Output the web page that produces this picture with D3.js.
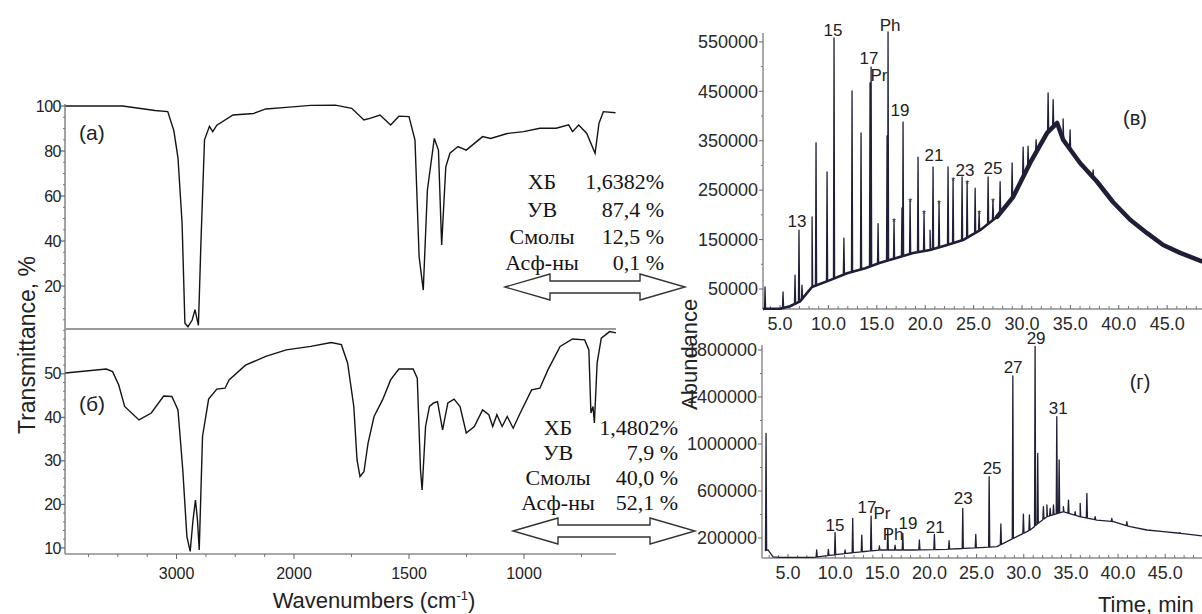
<!DOCTYPE html>
<html><head><meta charset="utf-8">
<script src="https://cdn.jsdelivr.net/npm/d3@7"></script>
<style>body{margin:0;background:#fff}svg{display:block}</style>
</head><body>
<svg id="c" width="1202" height="614"></svg>
<script>
// ---------------- DATA ----------------
// IR spectrum (a): wavenumber (cm-1) and transmittance (%)
const irA_wn = [3945,3459,3183,3075,3023,2988,2953,2929,2903,2867,2843,2814,2792,2762,2720,2692,2657,2519,2343,2240,2066,1927,1820,1749,1696,1670,1626,1580,1544,1500,1474,1456,1438,1420,1390,1372,1358,1340,1322,1287,1251,1180,1145,1073,1002,931,860,806,789,762,727,691,674,655,602];
const irA_T  = [100,100,98,97.5,89,77,48,3.5,1.9,4.9,9.5,2.5,40,85,91,88.6,91.5,96,96.7,98.7,99.4,100.3,100.4,99,93.8,94.5,96,91.6,95.5,95.3,84.9,33,18.2,62.7,85.6,80.4,38.2,73,79,82,80.4,86.4,85.6,87.8,88.6,90.1,90.1,91.6,88.6,91.6,87.8,79,92.3,97.5,97];
// IR spectrum (б)
const irB_wn = [3946,3598,3545,3493,3442,3320,3215,3110,3040,2988,2947,2912,2884,2860,2839,2822,2807,2779,2727,2657,2587,2553,2413,2240,2066,1927,1838,1794,1767,1740,1726,1713,1696,1678,1652,1615,1580,1544,1482,1464,1450,1443,1428,1411,1393,1376,1354,1331,1304,1278,1251,1216,1180,1153,1136,1118,1095,1073,1047,1020,967,931,896,843,789,736,718,709,700,694,682,664,628,600];
const irB_T  = [50.2,51.1,50.5,47.5,42.5,39.4,41,44.9,44.8,41.7,27.9,12.6,9.2,16.4,21,16.4,9.5,35.6,44.2,46.5,46.7,48.6,52,54,55.5,56.3,57.2,56.7,52.5,42.5,30.2,26.4,27.5,34.1,40.2,44,48.6,51.1,51.1,49,27.9,23.3,37.9,42.5,43.3,43.6,37.1,43.3,44.2,42.5,36.4,37.9,41.7,40.6,37.9,40.6,37.9,40.2,37.5,40.6,46.3,46.7,50.9,56.3,58,57.8,55.5,41,42.5,38.7,52.5,58.2,59.7,59.4];

const irX_ticks = [3000,2000,1500,1000];
const irA_yticks = [20,40,60,80,100];
const irB_yticks = [10,20,30,40,50];

// Group composition tables
const tableLabels = ["ХБ","УВ","Смолы","Асф-ны"];
const tableA_values = ["1,6382%","87,4 %","12,5 %","0,1 %"];
const tableB_values = ["1,4802%","7,9 %","40,0 %","52,1 %"];

// Chromatogram (в): background hump (time, abundance)
const chrV_baseT = [3.24,3.4,5.0,6.03,7.07,8.3,10.17,11.93,13.8,15.34,17.1,18.75,20.5,22.26,23.9,25.67,27.43,29.08,30.84,32.6,33.63,34.25,36.0,37.76,39.4,41.18,42.93,44.59,46.34,48.6];
const chrV_baseV = [9000,10000,10000,15000,25000,54000,68000,82000,92000,103000,113000,123000,129000,139000,149000,169000,196000,236000,305000,366000,386000,352000,305000,267000,226000,190000,163000,139000,123000,106000];
// Chromatogram (в): peaks (time, apex abundance)
const chrV_peakT = [3.45,5.31,6.55,6.96,7.27,8.31,8.72,9.86,10.58,11.6,12.44,13.37,14.3,14.41,15.13,16.06,16.16,16.78,17.6,17.71,18.44,19.26,19.88,20.5,20.81,21.43,22.36,22.88,23.81,24.33,25.16,25.57,26.5,27.0,27.74,28.98,30.12,30.63,31.46,32.7,33.22,34.25,34.97,37.35,39.1];
const chrV_peakV = [54000,44000,78000,169000,58000,196000,346000,287000,558000,153000,451000,366000,467000,499000,182000,360000,570000,190000,214000,388000,230000,317000,206000,169000,297000,226000,297000,273000,277000,267000,254000,206000,277000,230000,267000,305000,337000,339000,352000,447000,433000,394000,372000,291000,230000];
const chrV_labels = ["13","15","17","Pr","Ph","19","21","23","25"];
const chrV_labelT = [6.75,10.48,14.2,15.23,16.37,17.4,20.91,24.12,27.01];
const chrV_labelV = [187600,574100,517400,483000,584200,412200,321100,290800,294800];
const chrV_starT = [16.78,18.44,19.88,21.43,22.88,24.33,25.57,27.0];
const chrV_starV = [190000,230000,206000,226000,273000,267000,206000,230000];
const chrV_yticks = [50000,150000,250000,350000,450000,550000];

// Chromatogram (г)
const chrG_baseT = [2.6,2.88,3.41,4.15,7.69,11.22,14.76,18.3,21.83,25.37,27.14,28.9,30.68,31.74,32.45,34.2,35.98,37.75,39.52,41.29,43.06,44.82,46.59,48.9];
const chrG_baseV = [90000,100000,40000,35000,35000,70000,98000,98000,104000,118000,126000,197000,268000,339000,381000,424000,381000,353000,339000,296000,268000,254000,240000,218000];
const chrG_peakT = [2.67,8.04,9.28,9.99,11.05,11.86,12.82,13.81,14.69,15.58,16.35,17.17,18.93,20.52,22.08,23.53,24.91,26.33,27.57,28.84,29.96,30.6,31.2,31.48,32.08,32.45,32.8,33.15,33.5,33.75,34.2,34.74,35.45,35.98,36.69,37.57,39.34,40.93,46.59];
const chrG_peakV = [1091000,98000,104000,248000,98000,367000,225000,387000,132000,282000,140000,240000,183000,231000,177000,452000,231000,722000,319000,1579000,404000,396000,1830000,921000,467000,481000,452000,481000,1232000,864000,467000,523000,424000,495000,580000,381000,367000,339000,245000];
const chrG_labels = ["15","17","Pr","Ph","19","21","23","25","27","29","31"];
const chrG_labelT = [9.99,13.38,14.97,16.14,17.73,20.6,23.57,26.64,28.87,31.31,33.65];
const chrG_labelV = [310700,463900,412800,234100,327700,293600,540500,795800,1655400,1902200,1306500];
const chrG_yticks = [200000,600000,1000000,1400000,1800000];

const timeTicks = [5,10,15,20,25,30,35,40,45];

// ---------------- DRAW ----------------
const svg = d3.select("#c");
const SANS = "'Liberation Sans', Arial, sans-serif";
const SERIF = "'Liberation Serif', 'Times New Roman', serif";
const AX = "#8c8c8c";
const INK = "#141414";
const CHR = "#1f1f38";

// IR scales: the wavenumber axis changes scale at 2000 cm-1
const xIR = d3.scaleLinear().domain([3950,2000,600]).range([65,294,616]);
const yA = d3.scaleLinear().domain([0.9,100.9]).range([329,104]);
const yB = d3.scaleLinear().domain([8.6,60.3]).range([554,329]);

const gIR = svg.append("g");
gIR.append("line").attr("x1",65).attr("x2",65).attr("y1",104).attr("y2",554).attr("stroke",AX).attr("stroke-width",1.6);
gIR.append("line").attr("x1",65).attr("x2",616).attr("y1",554).attr("y2",554).attr("stroke",AX).attr("stroke-width",1.6);

function yTicks(scale, major, minorStep, lo, hi) {
  const minor = d3.range(lo, hi + 0.001, minorStep).filter(v => !major.includes(v));
  gIR.selectAll(null).data(minor).join("line")
    .attr("x1",63).attr("x2",65).attr("y1",d=>scale(d)).attr("y2",d=>scale(d))
    .attr("stroke","#777").attr("stroke-width",1);
  gIR.selectAll(null).data(major).join("line")
    .attr("x1",61).attr("x2",65).attr("y1",d=>scale(d)).attr("y2",d=>scale(d))
    .attr("stroke","#666").attr("stroke-width",1.2);
  gIR.selectAll(null).data(major).join("text")
    .attr("x",61).attr("y",d=>scale(d)).attr("dy","0.35em")
    .attr("text-anchor","end").attr("font-family",SANS).attr("font-size",16)
    .attr("fill","#222").attr("letter-spacing","-0.5").text(d=>d);
}
yTicks(yA, irA_yticks, 5, 5, 100);
yTicks(yB, irB_yticks, 2, 10, 60);

const xMinor = d3.range(750, 3800, 250).filter(v => !irX_ticks.includes(v));
gIR.selectAll(null).data(xMinor).join("line")
  .attr("x1",d=>xIR(d)).attr("x2",d=>xIR(d)).attr("y1",554).attr("y2",557)
  .attr("stroke","#777");
gIR.selectAll(null).data(irX_ticks).join("line")
  .attr("x1",d=>xIR(d)).attr("x2",d=>xIR(d)).attr("y1",554).attr("y2",559)
  .attr("stroke","#666");
gIR.selectAll(null).data(irX_ticks).join("text")
  .attr("x",d=>xIR(d)).attr("y",573).attr("dy","0.35em").attr("text-anchor","middle")
  .attr("font-family",SANS).attr("font-size",16).attr("fill","#222").text(d=>d);

gIR.append("line").attr("x1",65).attr("x2",616).attr("y1",329).attr("y2",329)
  .attr("stroke","#9a9a9a").attr("stroke-width",2.2);

const lineA = d3.line().x((d,i)=>xIR(irA_wn[i])).y((d,i)=>yA(irA_T[i]));
const lineB = d3.line().x((d,i)=>xIR(irB_wn[i])).y((d,i)=>yB(irB_T[i]));
gIR.append("path").attr("d", lineA(irA_wn)).attr("fill","none").attr("stroke",INK).attr("stroke-width",1.4);
gIR.append("path").attr("d", lineB(irB_wn)).attr("fill","none").attr("stroke",INK).attr("stroke-width",1.4);

gIR.append("text").attr("x",79).attr("y",140).attr("font-family",SANS).attr("font-size",21).attr("fill","#222").text("(a)");
gIR.append("text").attr("x",79).attr("y",411).attr("font-family",SANS).attr("font-size",21).attr("fill","#222").text("(б)");
gIR.append("text").attr("transform","translate(35,345) rotate(-90)").attr("text-anchor","middle")
  .attr("font-family",SANS).attr("font-size",23).attr("fill","#222").text("Transmittance, %");
const wt = gIR.append("text").attr("x",374).attr("y",608).attr("text-anchor","middle")
  .attr("font-family",SANS).attr("font-size",22).attr("fill","#222");
wt.append("tspan").text("Wavenumbers (cm");
wt.append("tspan").attr("dy",-8).attr("font-size",13).text("-1");
wt.append("tspan").attr("dy",8).text(")");

function table(values, rowY, labelX, valueX, size) {
  const g = svg.append("g").attr("font-family",SERIF).attr("font-size",size).attr("fill",INK);
  g.selectAll(null).data(tableLabels).join("text")
    .attr("x",labelX).attr("y",(d,i)=>rowY[i]).attr("dy","0.35em").attr("text-anchor","middle").text(d=>d);
  g.selectAll(null).data(values).join("text")
    .attr("x",valueX).attr("y",(d,i)=>rowY[i]).attr("dy","0.35em").attr("text-anchor","end").text(d=>d);
}
table(tableA_values, [181,209,236,262], 542, 664, 22);
table(tableB_values, [427,452,477,502], 558, 678, 22);

function dblArrow(x1, x2, yc, hl, hh, sh) {
  const p = [[x1,yc],[x1+hl,yc-hh],[x1+hl,yc-sh],[x2-hl,yc-sh],[x2-hl,yc-hh],[x2,yc],
             [x2-hl,yc+hh],[x2-hl,yc+sh],[x1+hl,yc+sh],[x1+hl,yc+hh]];
  svg.append("path").attr("d", d3.line()(p) + "Z").attr("fill","#fff").attr("stroke","#333").attr("stroke-width",1.4);
}
dblArrow(505, 685, 287, 45, 13, 6);
dblArrow(513, 695, 531, 45, 13, 6);

// ---------------- chromatograms ----------------
function chromPoints(baseT, baseV, peakT, peakV, w) {
  const base = d3.scaleLinear().domain(baseT).range(baseV);
  const pts = baseT.map((t,i)=>[t, baseV[i]]);
  peakT.forEach((t,i)=>{ pts.push([t-w, base(t-w)], [t, peakV[i]], [t+w, base(t+w)]); });
  pts.sort((a,b)=>a[0]-b[0]);
  return pts;
}

function chromPanel(o) {
  const g = svg.append("g");
  const x = d3.scaleLinear().domain(o.xd).range([o.left, 1202]);
  const y = d3.scaleLinear().domain(o.yd).range([o.bottom, o.top]);
  g.append("line").attr("x1",o.left).attr("x2",o.left).attr("y1",o.top).attr("y2",o.bottom).attr("stroke",AX).attr("stroke-width",1.5);
  g.append("line").attr("x1",o.left).attr("x2",1202).attr("y1",o.bottom).attr("y2",o.bottom).attr("stroke",AX).attr("stroke-width",1.5);
  const yMin = d3.range(o.minStep, o.yd[1], o.minStep).filter(v=>!o.yticks.includes(v));
  g.selectAll(null).data(yMin).join("line").attr("x1",o.left-2).attr("x2",o.left).attr("y1",d=>y(d)).attr("y2",d=>y(d)).attr("stroke","#777");
  g.selectAll(null).data(o.yticks).join("line").attr("x1",o.left-4).attr("x2",o.left).attr("y1",d=>y(d)).attr("y2",d=>y(d)).attr("stroke","#666");
  g.selectAll(null).data(o.yticks).join("text").attr("x",o.left-5).attr("y",d=>y(d)).attr("dy","0.35em")
    .attr("text-anchor","end").attr("font-family",SANS).attr("font-size",18).attr("fill","#2a2a2a").text(d=>d);
  const tMin = d3.range(Math.ceil(o.xd[0]), o.xd[1], 1).filter(v=>!timeTicks.includes(v));
  g.selectAll(null).data(tMin).join("line").attr("x1",d=>x(d)).attr("x2",d=>x(d)).attr("y1",o.bottom-3).attr("y2",o.bottom).attr("stroke","#777");
  g.selectAll(null).data(timeTicks).join("line").attr("x1",d=>x(d)).attr("x2",d=>x(d)).attr("y1",o.bottom-4).attr("y2",o.bottom).attr("stroke","#666");
  g.selectAll(null).data(timeTicks).join("text").attr("x",d=>x(d)).attr("y",o.bottom+15).attr("dy","0.35em")
    .attr("text-anchor","middle").attr("font-family",SANS).attr("font-size",18).attr("fill","#2a2a2a").text(d=>d.toFixed(1));
  const ln = d3.line().x(d=>x(d[0])).y(d=>y(d[1]));
  if (o.bandSplit) {
    const all = o.baseT.map((t,i)=>[t,o.baseV[i]]);
    const early = all.filter(d=>d[0] <= o.bandSplit + 2);
    const late = all.filter(d=>d[0] >= o.bandSplit);
    g.append("path").attr("d", ln(early)).attr("fill","none").attr("stroke",CHR).attr("stroke-width",2.6).attr("stroke-linejoin","round");
    g.append("path").attr("d", ln(late)).attr("fill","none").attr("stroke",CHR).attr("stroke-width",4.5).attr("stroke-linejoin","round").attr("stroke-linecap","round");
  }
  g.append("path").attr("d", ln(chromPoints(o.baseT,o.baseV,o.peakT,o.peakV,0.06)))
    .attr("fill","none").attr("stroke",CHR).attr("stroke-width",1.3).attr("stroke-linejoin","round");
  g.selectAll(null).data(o.labels).join("text").attr("x",(d,i)=>x(o.labelT[i])).attr("y",(d,i)=>y(o.labelV[i]))
    .attr("dy","0.35em").attr("text-anchor","middle").attr("font-family",SANS).attr("font-size",17).attr("fill","#222").text(d=>d);
  if (o.starT) {
    g.selectAll(null).data(o.starT).join("text").attr("x",d=>x(d)).attr("y",(d,i)=>y(o.starV[i])+6)
      .attr("text-anchor","middle").attr("font-family",SANS).attr("font-size",10).attr("fill","#333").text("*");
  }
  g.append("text").attr("x",o.tag[0]).attr("y",o.tag[1]).attr("dy","0.35em").attr("text-anchor","middle")
    .attr("font-family",SANS).attr("font-size",20).attr("fill","#222").text(o.tag[2]);
}

chromPanel({xd:[3.24,48.6], yd:[9500,568000], left:763, top:33, bottom:309, yticks:chrV_yticks, minStep:50000,
  baseT:chrV_baseT, baseV:chrV_baseV, peakT:chrV_peakT, peakV:chrV_peakV, bandSplit:27.43,
  labels:chrV_labels, labelT:chrV_labelT, labelV:chrV_labelV, starT:chrV_starT, starV:chrV_starV, tag:[1135,118,"(в)"]});
chromPanel({xd:[2.24,48.9], yd:[29800,1842600], left:762, top:345, bottom:558, yticks:chrG_yticks, minStep:200000,
  baseT:chrG_baseT, baseV:chrG_baseV, peakT:chrG_peakT, peakV:chrG_peakV, bandSplit:0,
  labels:chrG_labels, labelT:chrG_labelT, labelV:chrG_labelV, tag:[1140,382,"(г)"]});

svg.append("text").attr("transform","translate(697,410) rotate(-90)").attr("text-anchor","start")
  .attr("font-family",SANS).attr("font-size",22).attr("fill","#222").text("Abundance");
svg.append("text").attr("x",1098).attr("y",612).attr("font-family",SANS).attr("font-size",22).attr("fill","#222").text("Time, min");
</script>
</body></html>
